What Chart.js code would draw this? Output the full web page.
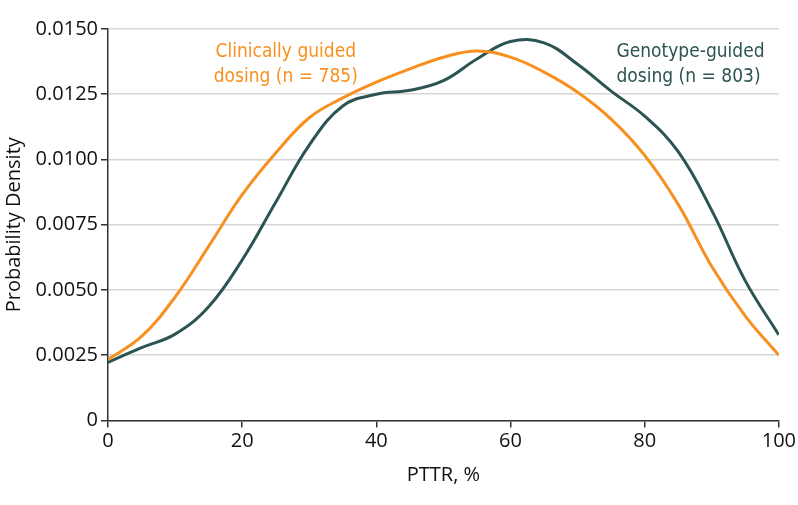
<!DOCTYPE html>
<html>
<head>
<meta charset="utf-8">
<script src="https://cdn.jsdelivr.net/npm/chart.js@4"></script>
<style>
  html, body { margin: 0; padding: 0; background: #fff; }
  #wrap { width: 798px; height: 505px; }
</style>
</head>
<body>
<div id="wrap"><canvas id="chart"></canvas></div>
<script>
// PTTR values (x) and density estimates
const pttr = [0, 5, 10, 15, 20, 25, 30, 35, 40, 45, 50, 55, 60, 65, 70, 75, 80, 85, 90, 95, 100];
const clinical = [0.00234, 0.00322, 0.00473, 0.00667, 0.00865, 0.01025, 0.0116, 0.01236, 0.01296, 0.01347, 0.01392, 0.01416, 0.01392, 0.01335, 0.01258, 0.01155, 0.01016, 0.00828, 0.0059, 0.004, 0.0025];
const genotype = [0.00223, 0.00279, 0.00331, 0.00436, 0.00615, 0.00836, 0.01055, 0.01205, 0.0125, 0.01265, 0.01302, 0.01385, 0.01452, 0.01447, 0.01365, 0.01262, 0.01166, 0.0103, 0.00805, 0.00535, 0.00328];
const yTickLabels = ["0", "0.0025", "0.0050", "0.0075", "0.0100", "0.0125", "0.0150"];
const xTickLabels = ["0", "20", "40", "60", "80", "100"];

const ORANGE = "#f7901e";
const GREEN = "#2b5453";

const toPoints = (vals) => vals.map((v, i) => ({ x: pttr[i], y: v }));

// Annotation labels next to each curve
const seriesLabels = [
  { lines: ["Clinically guided", "dosing (n = 785)"], x: 26.5, y: 0.0141, align: "center", color: ORANGE },
  { lines: ["Genotype-guided", "dosing (n = 803)"], x: 75.8, y: 0.0141, align: "left", color: GREEN },
];

const labelPlugin = {
  id: "seriesLabels",
  afterDatasetsDraw(chart) {
    const { ctx, scales } = chart;
    ctx.save();
    ctx.font = "500 19px 'DejaVu Sans Condensed', 'DejaVu Sans', sans-serif";
    ctx.textBaseline = "middle";
    seriesLabels.forEach((lab) => {
      const px = scales.x.getPixelForValue(lab.x);
      const py = scales.y.getPixelForValue(lab.y);
      ctx.fillStyle = lab.color;
      ctx.textAlign = lab.align;
      lab.lines.forEach((t, i) => ctx.fillText(t, px, py + i * 25));
    });
    ctx.restore();
  },
};

const tickFont = { family: "'Open Sans', sans-serif", size: 20 };

new Chart(document.getElementById("chart"), {
  type: "line",
  data: {
    datasets: [
      {
        label: "Clinically guided dosing (n = 785)",
        data: toPoints(clinical),
        borderColor: ORANGE,
        borderWidth: 3,
        pointRadius: 0,
        tension: 0.4,
        fill: false,
      },
      {
        label: "Genotype-guided dosing (n = 803)",
        data: toPoints(genotype),
        borderColor: GREEN,
        borderWidth: 3,
        pointRadius: 0,
        tension: 0.4,
        fill: false,
      },
    ],
  },
  options: {
    responsive: true,
    maintainAspectRatio: false,
    animation: false,
    layout: { padding: { top: 29, right: 19, left: 0, bottom: 0 } },
    plugins: { legend: { display: false }, tooltip: { enabled: false } },
    scales: {
      x: {
        type: "linear",
        min: 0,
        max: 100,
        afterFit: (s) => { s.height = 84.5; },
        border: { color: "#333", width: 1.5 },
        grid: { drawOnChartArea: false, tickLength: 7, tickColor: "#333", lineWidth: 1.5 },
        ticks: {
          stepSize: 20,
          color: "#111",
          font: tickFont,
          padding: 2,
          callback: (v) => xTickLabels[v / 20],
        },
        title: {
          display: true,
          text: "PTTR, %",
          color: "#111",
          font: tickFont,
          padding: { top: 4, bottom: 18 },
        },
      },
      y: {
        min: 0,
        max: 0.015,
        afterFit: (s) => { s.width = 108; },
        border: { color: "#333", width: 1.5 },
        grid: { color: "#d6d6d6", lineWidth: 1.5, tickLength: 7, tickColor: "#333" },
        ticks: {
          stepSize: 0.0025,
          color: "#111",
          font: tickFont,
          padding: 3,
          callback: (v) => yTickLabels[Math.round(v / 0.0025)],
        },
        title: {
          display: true,
          text: "Probability Density",
          color: "#111",
          font: tickFont,
          padding: { top: 2, bottom: 2 },
        },
      },
    },
  },
  plugins: [labelPlugin],
});
</script>
</body>
</html>
